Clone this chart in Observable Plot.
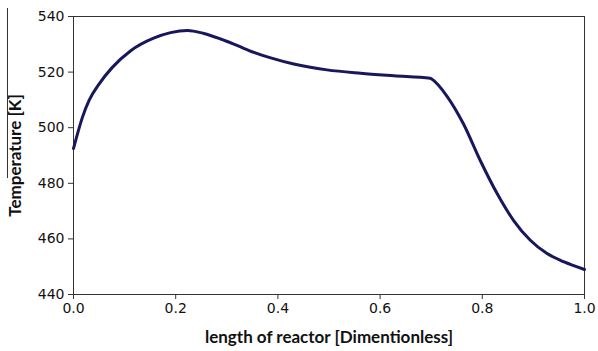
<!DOCTYPE html>
<html>
<head>
<meta charset="utf-8">
<script src="https://cdn.jsdelivr.net/npm/d3@7"></script>
<script src="https://cdn.jsdelivr.net/npm/@observablehq/plot@0.6"></script>
<style>
  html, body { margin: 0; padding: 0; background: #fff; }
  #wrap { position: relative; width: 598px; height: 351px; }
  #artifact { position: absolute; left: 7px; top: 8px; width: 1px; height: 170px; background: #333; }
</style>
</head>
<body>
<div id="wrap"><div id="artifact"></div></div>
<script>
const lengthPos = [0, 0.0078, 0.0176, 0.0305, 0.050, 0.076, 0.112, 0.158, 0.190, 0.223, 0.255, 0.288, 0.321, 0.353, 0.386, 0.431, 0.496, 0.562, 0.627, 0.698, 0.701, 0.731, 0.763, 0.796, 0.829, 0.861, 0.894, 0.926, 0.959, 1.0];
const temperature = [492.5, 497.8, 503.8, 509.8, 515.7, 521.7, 527.7, 532.3, 534.2, 535.0, 533.9, 531.9, 529.5, 527.1, 525.1, 522.9, 520.8, 519.6, 518.7, 517.8, 517.5, 511.3, 501.4, 488.2, 476.3, 466.7, 459.5, 454.8, 451.8, 449.0];
const xTicks = [0, 0.2, 0.4, 0.6, 0.8, 1.0];
const yTicks = [440, 460, 480, 500, 520, 540];
const xLabel = "length of reactor [Dimentionless]";
const yLabel = "Temperature [K]";

const data = lengthPos.map((x, i) => ({x, t: temperature[i]}));

const chart = Plot.plot({
  width: 598,
  height: 351,
  marginLeft: 73,
  marginRight: 14,
  marginTop: 16,
  marginBottom: 57,
  style: {fontFamily: "DejaVu Sans", fontSize: "14px", color: "#111", background: "#fff"},
  x: {domain: [0, 1]},
  y: {domain: [440, 540]},
  marks: [
    Plot.frame({stroke: "#333", strokeWidth: 1}),
    Plot.axisX({ticks: xTicks, tickFormat: d3.format(".1f"), tickSize: 5, tickPadding: 4, label: null, stroke: "#333"}),
    Plot.axisY({ticks: yTicks, tickSize: 5, tickPadding: 4, label: null, stroke: "#333"}),
    Plot.line(data, {x: "x", y: "t", curve: "monotone-x", stroke: "#17175c", strokeWidth: 3}),
    Plot.text([xLabel], {frameAnchor: "bottom", textAnchor: "middle", lineAnchor: "middle", dy: 43, fontWeight: "bold", fontSize: 17, fontFamily: "Lato", fill: "#111"}),
    Plot.text([yLabel], {frameAnchor: "left", textAnchor: "middle", lineAnchor: "middle", rotate: -90, dx: -58, fontWeight: "bold", fontSize: 17, fontFamily: "Lato", fill: "#111"})
  ]
});
document.getElementById("wrap").appendChild(chart);
</script>
</body>
</html>
